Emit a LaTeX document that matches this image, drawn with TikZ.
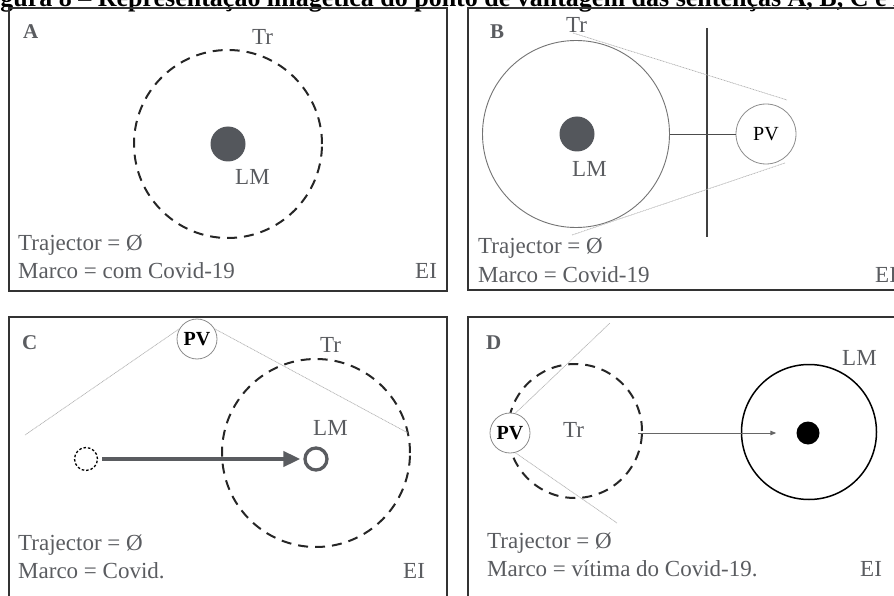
\documentclass[tikz,border=0pt]{standalone}
\usepackage{fontspec}
\setmainfont{Liberation Serif}
\usetikzlibrary{positioning,arrows.meta}
\definecolor{txtc}{HTML}{5A5C60}
\definecolor{dotc}{HTML}{54575C}
\definecolor{framec}{HTML}{333333}
\newcommand{\legenda}[5]{%
  \node[lbl, anchor=base west] (#1traj) at (#2,#3) {Trajector = Ø};
  \node[lbl, anchor=base west] (#1marco) at (#2,#3+28.5) {Marco = #4};
  \node[lbl, anchor=base west] (#1ei) at (#5,#3+28.5) {EI};}

\begin{document}
\begin{tikzpicture}[x=1pt, y=-1pt,
  lbl/.style={font=\fontsize{23}{27}\selectfont, text=txtc, inner sep=0pt},
  tag/.style={font=\fontsize{21}{25}\selectfont\bfseries, text=txtc, inner sep=0pt, anchor=base west},
  frame/.style={draw=framec, line width=1.6pt},
  dashring/.style={circle, draw=black!85, line width=2pt, dash pattern=on 10pt off 7pt, inner sep=0pt},
  lmdot/.style={circle, fill=dotc, inner sep=0pt, minimum size=35pt},
  pvring/.style={circle, draw=black!45, line width=0.8pt, inner sep=0pt, text=black,
                 font=\fontsize{20}{24}\selectfont},
  sightline/.style={draw=black!30, line width=0.7pt, dash pattern=on 1pt off 0.6pt}]
  \useasboundingbox (0,0) rectangle (894,596);
  \node[font=\fontsize{26}{30}\selectfont\bfseries, anchor=base west, inner sep=0pt] (titulo)
    at (-23,7) {Figura 8 -- Representação imagética do ponto de vantagem das sentenças A, B, C e D};

  % A
  \draw[frame] (9,8) rectangle (447,291);
  \node[tag] (tagA) at (23,39) {A};
  \node[dashring, minimum size=188pt] (trA) at (228,144) {};
  \node[lmdot] (lmA) at (228,144) {};
  \node[lbl, anchor=base west] (trtxtA) at (252,45) {Tr};
  \node[lbl, anchor=base west] (lmtxtA) at (235,185) {LM};
  \legenda{A}{18}{250}{com Covid-19}{415}

  % B
  \draw[frame] (468,8) rectangle (910,290);
  \node[tag] (tagB) at (490,39) {B};
  \node[circle, draw=black!55, line width=0.9pt, inner sep=0pt, minimum size=187pt] (trB) at (576,134) {};
  \node[lmdot] (lmB) at (577,134) {};
  \node[lbl, anchor=base west] (trtxtB) at (566,33) {Tr};
  \node[lbl, anchor=base west] (lmtxtB) at (572,177) {LM};
  \coordinate (vtop) at (707,28);
  \coordinate (vbot) at (707,237);
  \draw[black!75, line width=1.2pt] (vtop) -- (vbot);
  \node[pvring, minimum size=60pt] (pvB) at (766,134) {PV};
  \draw[black!70, line width=0.9pt] (trB.east) -- (pvB.west);
  \coordinate (bsup1) at (573,33);
  \coordinate (bsup2) at (787,100);
  \coordinate (binf1) at (572,235);
  \coordinate (binf2) at (785,163);
  \draw[sightline] (bsup1) -- (bsup2);
  \draw[sightline] (binf1) -- (binf2);
  \legenda{B}{478}{254}{Covid-19}{875}

  % C
  \draw[frame] (9,317) rectangle (447,620);
  \node[tag] (tagC) at (22,349) {C};
  \node[pvring, minimum size=40pt, font=\fontsize{20}{24}\selectfont\bfseries] (pvC) at (197,339) {PV};
  \node[dashring, minimum size=188pt] (trC) at (316,453) {};
  \node[lbl, anchor=base west] (trtxtC) at (320,352) {Tr};
  \node[lbl, anchor=base west] (lmtxtC) at (313,435) {LM};
  \node[circle, draw=black, line width=1.3pt, dash pattern=on 2.5pt off 2pt, inner sep=0pt,
        minimum size=23pt] (smC) at (86,459) {};
  \node[circle, draw=txtc, line width=3.3pt, inner sep=0pt, minimum size=22pt] (lmC) at (316,459) {};
  \draw[txtc, line width=4pt, -{Triangle[length=17pt,width=15pt]},
        shorten <=4pt, shorten >=3pt] (smC) -- (lmC);
  \coordinate (cesq) at (25,435);
  \coordinate (cdir) at (408,433);
  \draw[sightline] (pvC.150) -- (cesq);
  \draw[sightline] (pvC.30) -- (cdir);
  \legenda{C}{18}{550}{Covid.}{403}

  % D
  \draw[frame] (468,317) rectangle (910,620);
  \node[tag] (tagD) at (486,349) {D};
  \node[dashring, minimum size=134pt] (trD) at (575,431) {};
  \node[pvring, minimum size=40pt, fill=white, font=\fontsize{20}{24}\selectfont\bfseries] (pvD) at (510,433) {PV};
  \node[lbl, anchor=base west] (trtxtD) at (563,437) {Tr};
  \node[circle, draw=black, line width=1.5pt, inner sep=0pt, minimum size=135pt] (ringD) at (809,432) {};
  \node[circle, fill=black, inner sep=0pt, minimum size=23pt] (dotD) at (808,433) {};
  \node[lbl, anchor=base west] (lmtxtD) at (842,365) {LM};
  \draw[black!60, line width=0.9pt, -{Triangle[length=6pt,width=4.5pt]}]
    ([xshift=-5pt]trD.east |- dotD.west) -- ([xshift=-20pt]dotD.west);
  \coordinate (dsup) at (610,323);
  \coordinate (dinf) at (617,523);
  \draw[sightline] (pvD.75) -- (dsup);
  \draw[sightline] (pvD.-75) -- (dinf);
  \legenda{D}{487}{548}{vítima do Covid-19.}{860}
\end{tikzpicture}
\end{document}
